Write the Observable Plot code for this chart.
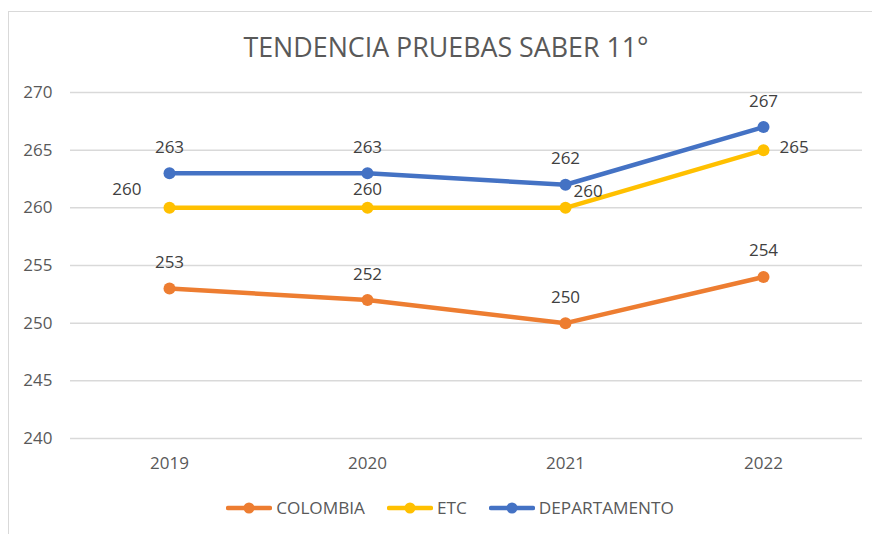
<!DOCTYPE html>
<html>
<head>
<meta charset="utf-8">
<script src="https://cdn.jsdelivr.net/npm/d3@7"></script>
<script src="https://cdn.jsdelivr.net/npm/@observablehq/plot@0.6"></script>
<style>
  html, body { margin: 0; padding: 0; background: #fff; }
  #wrap { position: relative; width: 872px; height: 534px; overflow: hidden; font-family: "Open Sans", sans-serif; }
  #frame { position: absolute; left: 8px; top: 11px; width: 1000px; height: 1000px; border-left: 1.5px solid #d9d9d9; border-top: 1.5px solid #d9d9d9; }
  #title { position: absolute; top: 28px; left: 446px; transform: translateX(-50%); white-space: nowrap; font-size: 26.8px; color: #595959; }
  #chart { position: absolute; left: 0; top: 0; }
  #legend { position: absolute; top: 496px; left: 0; width: 900px; display: flex; justify-content: center; gap: 22px; font-size: 17.2px; color: #595959; }
  .item { display: flex; align-items: center; gap: 4px; }
</style>
</head>
<body>
<div id="wrap">
  <div id="frame"></div>
  <div id="chart"></div>
  <div id="title"></div>
  <div id="legend"></div>
</div>
<script>
const titleText = "TENDENCIA PRUEBAS SABER 11°";
const years = ["2019", "2020", "2021", "2022"];
const yTicks = [240, 245, 250, 255, 260, 265, 270];
const seriesNames = ["COLOMBIA", "ETC", "DEPARTAMENTO"];
const seriesColors = ["#ED7D31", "#FFC000", "#4472C4"];
const colombia = [253, 252, 250, 254];
const etc = [260, 260, 260, 265];
const departamento = [263, 263, 262, 267];
// label placement per point (Excel-style manual positions)
const labelPlacement = {
  COLOMBIA: ["top", "top", "top", "top"],
  ETC: ["topleft", "top2", "topright", "right"],
  DEPARTAMENTO: ["top", "top", "top", "top"]
};

const valuesBySeries = {COLOMBIA: colombia, ETC: etc, DEPARTAMENTO: departamento};
const rows = [];
for (const s of seriesNames) {
  valuesBySeries[s].forEach((v, i) => rows.push({series: s, year: years[i], value: v, place: labelPlacement[s][i]}));
}
const colorOf = Object.fromEntries(seriesNames.map((s, i) => [s, seriesColors[i]]));
const placeOffsets = {
  top: {dx: 0, dy: -26, anchor: "middle"},
  top2: {dx: 0, dy: -18, anchor: "middle"},
  topleft: {dx: -28, dy: -18, anchor: "end"},
  topright: {dx: 8, dy: -16, anchor: "start"},
  right: {dx: 16, dy: -3, anchor: "start"}
};

const labelMarks = Object.entries(placeOffsets).map(([p, o]) =>
  Plot.text(rows.filter(d => d.place === p), {
    x: "year", y: "value", text: d => String(d.value),
    dx: o.dx, dy: o.dy, textAnchor: o.anchor, fill: "#404040", fontSize: 17
  })
);

const chart = Plot.plot({
  width: 872,
  height: 534,
  marginLeft: 70,
  marginRight: 10,
  marginTop: 92,
  marginBottom: 96,
  style: {fontFamily: "Open Sans, sans-serif", fontSize: "17px", color: "#595959", background: "transparent"},
  x: {type: "point", domain: years, padding: 0.5, label: null},
  y: {domain: [240, 270], label: null},
  marks: [
    Plot.gridY(yTicks, {stroke: "#d9d9d9", strokeOpacity: 1, strokeWidth: 1.5}),
    Plot.axisY(yTicks, {tickSize: 0, tickPadding: 18, label: null, fill: "#595959", fontSize: 17}),
    Plot.axisX({tickSize: 0, tickPadding: 18, label: null, fill: "#595959", fontSize: 17}),
    Plot.line(rows, {x: "year", y: "value", z: "series", stroke: d => colorOf[d.series], strokeWidth: 4.5, strokeLinecap: "round", strokeLinejoin: "round"}),
    Plot.dot(rows, {x: "year", y: "value", r: 6, fill: d => colorOf[d.series], stroke: "none"}),
    ...labelMarks
  ]
});
document.getElementById("chart").appendChild(chart);
document.getElementById("title").textContent = titleText;

const legend = document.getElementById("legend");
seriesNames.forEach((s, i) => {
  const item = document.createElement("div");
  item.className = "item";
  const ns = "http://www.w3.org/2000/svg";
  const svg = document.createElementNS(ns, "svg");
  svg.setAttribute("width", 46); svg.setAttribute("height", 14);
  const ln = document.createElementNS(ns, "line");
  ln.setAttribute("x1", 2); ln.setAttribute("x2", 44); ln.setAttribute("y1", 7); ln.setAttribute("y2", 7);
  ln.setAttribute("stroke", seriesColors[i]); ln.setAttribute("stroke-width", 4.5); ln.setAttribute("stroke-linecap", "round");
  const c = document.createElementNS(ns, "circle");
  c.setAttribute("cx", 23); c.setAttribute("cy", 7); c.setAttribute("r", 5.5); c.setAttribute("fill", seriesColors[i]);
  svg.appendChild(ln); svg.appendChild(c);
  const t = document.createElement("span");
  t.textContent = s;
  item.appendChild(svg); item.appendChild(t);
  legend.appendChild(item);
});
</script>
</body>
</html>
